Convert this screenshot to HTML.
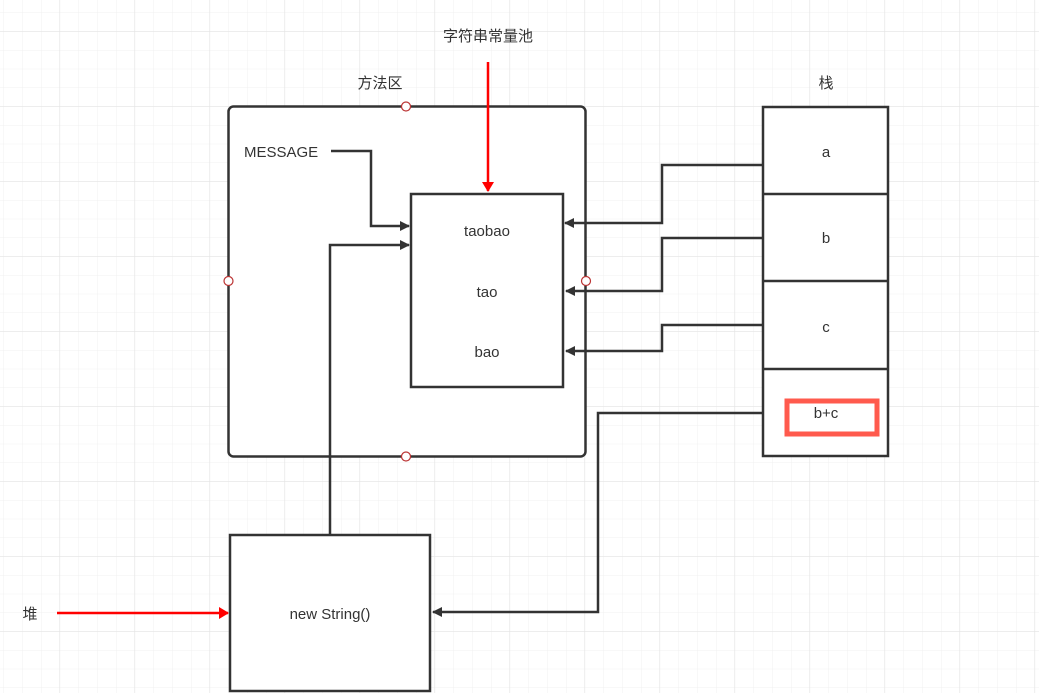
<!DOCTYPE html>
<html><head><meta charset="utf-8"><style>
body{margin:0;background:#fff}
svg{display:block}
text{font-family:"Liberation Sans","Noto Sans CJK SC",sans-serif;font-size:15px;fill:#333}
</style></head><body>
<svg width="1039" height="693" viewBox="0 0 1039 693" xmlns="http://www.w3.org/2000/svg">
<defs>
<pattern id="g" x="3.5" y="12.5" width="18.75" height="18.75" patternUnits="userSpaceOnUse">
<path d="M0 0V18.75M0 0H18.75" stroke="#f0f0f0" stroke-width="1" fill="none"/>
</pattern>
<pattern id="G" x="59.5" y="106.5" width="75" height="75" patternUnits="userSpaceOnUse">
<path d="M0 0V75M0 0H75" stroke="#e2e2e2" stroke-width="1" fill="none"/>
</pattern>
<marker id="a" markerWidth="10" markerHeight="10" refX="9" refY="5" orient="auto" markerUnits="userSpaceOnUse" viewBox="0 0 10 10"><path d="M0 0L10 5L0 10Z" fill="#333"/></marker>
<marker id="r" markerWidth="10" markerHeight="12" refX="9" refY="6" orient="auto" markerUnits="userSpaceOnUse" viewBox="0 0 10 12"><path d="M0 0L10 6L0 12Z" fill="#f00"/></marker>
</defs>
<rect width="1039" height="693" fill="url(#g)"/>
<rect width="1039" height="693" fill="url(#G)"/>
<g fill="#fff" stroke="#333" stroke-width="2.5">
<rect x="228.5" y="106.5" width="357" height="350" rx="5"/>
<rect x="411" y="194" width="152" height="193"/>
<rect x="230" y="535" width="200" height="156"/>
<rect x="763" y="107" width="125" height="349"/>
<path d="M763 194H888M763 281H888M763 369H888" fill="none"/>
</g>
<rect x="787" y="401" width="90" height="33" fill="none" stroke="#ff5a4d" stroke-width="5"/>
<g fill="none" stroke="#333" stroke-width="2.5">
<path d="M331 151H371V226H409" marker-end="url(#a)"/>
<path d="M330 535V245H409" marker-end="url(#a)"/>
<path d="M763 165H662V223H565" marker-end="url(#a)"/>
<path d="M763 238H662V291H566" marker-end="url(#a)"/>
<path d="M763 325H662V351H566" marker-end="url(#a)"/>
<path d="M763 413H598V612H433" marker-end="url(#a)"/>
</g>
<g fill="none" stroke="#f00" stroke-width="2.5">
<path d="M488 62V191" marker-end="url(#r)"/>
<path d="M57 613H228" marker-end="url(#r)"/>
</g>
<g fill="#fff" stroke="#b33" stroke-width="1.2">
<circle cx="406" cy="106.5" r="4.5"/><circle cx="228.5" cy="281" r="4.5"/>
<circle cx="586" cy="281" r="4.5"/><circle cx="406" cy="456.5" r="4.5"/>
</g>
<text x="488" y="41" text-anchor="middle">字符串常量池</text>
<text x="380" y="88" text-anchor="middle">方法区</text>
<text x="826" y="88" text-anchor="middle">栈</text>
<text x="30" y="619" text-anchor="middle">堆</text>
<text x="244" y="157">MESSAGE</text>
<text x="487" y="236" text-anchor="middle">taobao</text>
<text x="487" y="297" text-anchor="middle">tao</text>
<text x="487" y="357" text-anchor="middle">bao</text>
<text x="826" y="157" text-anchor="middle">a</text>
<text x="826" y="243" text-anchor="middle">b</text>
<text x="826" y="332" text-anchor="middle">c</text>
<text x="826" y="418" text-anchor="middle">b+c</text>
<text x="330" y="619" text-anchor="middle">new String()</text>
</svg>
</body></html>
